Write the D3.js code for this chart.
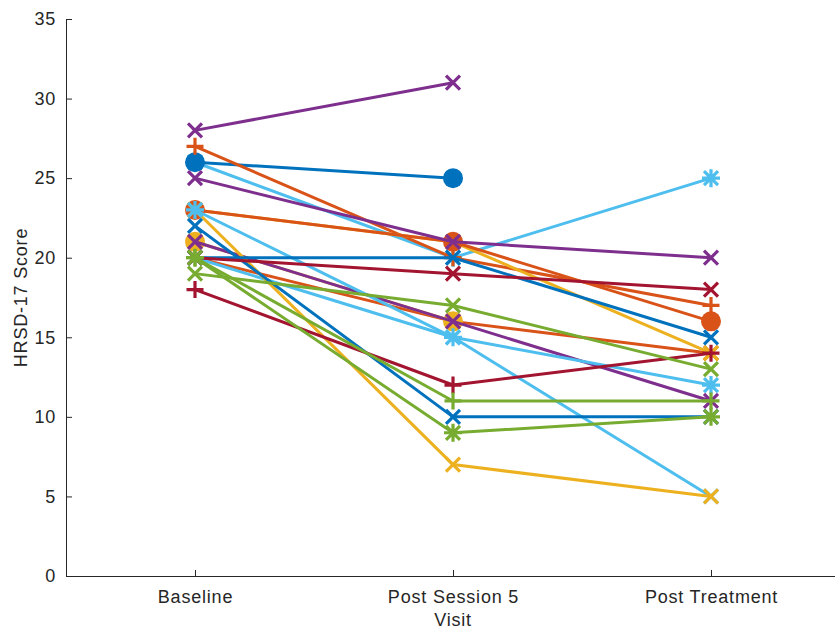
<!DOCTYPE html>
<html>
<head>
<meta charset="utf-8">
<script src="https://cdn.jsdelivr.net/npm/d3@7"></script>
<style>
  html, body { margin: 0; padding: 0; background: #fff; }
  svg { display: block; }
  text { font-family: "Liberation Sans", Arial, sans-serif; fill: #262626; }
</style>
</head>
<body>
<svg id="chart" width="835" height="631"></svg>
<script>
// Visits on the x axis
const visits = ["Baseline", "Post Session 5", "Post Treatment"];

// HRSD-17 scores per participant (null = visit not completed), in plotting order
const scores = [
  [26, 20, 25],
  [26, 25, null],
  [27, 20, 17],
  [20, 16, 14],
  [23, 21, 14],
  [23, 21, 16],
  [21, 16, null],
  [28, 31, null],
  [25, 21, 20],
  [21, 16, 11],
  [20, 15, 5],
  [23, 7, 5],
  [23, 15, 12],
  [22, 10, 10],
  [20, 20, 15],
  [20, 19, 18],
  [18, 12, 14],
  [19, 17, 13],
  [20, 11, 11],
  [20, 9, 10]
];

// Colour index (into palette) and marker symbol for each participant
const colorIndex = [5, 0, 1, 1, 2, 1, 2, 3, 3, 3, 5, 2, 5, 0, 0, 6, 6, 4, 4, 4];
const markerType = ["*", "o", "+", "x", "x", "o", "o", "x", "x", "x", "x", "x", "*", "x", "x", "x", "+", "x", "+", "*"];

// Y axis ticks
const yTicks = [0, 5, 10, 15, 20, 25, 30, 35];

const palette = ["#0072BD", "#D95319", "#EDB120", "#7E2F8E", "#77AC30", "#4DBEEE", "#A2142F"];

const svg = d3.select("#chart");
const plotLeft = 66, plotRight = 840, plotTop = 19, plotBottom = 576;

const x = d3.scaleLinear().domain([0.5, 3.5]).range([plotLeft, plotRight]);
const y = d3.scaleLinear().domain([0, 35]).range([plotBottom, plotTop]);

// Axes (ticks pointing inward)
const axisColor = "#262626";
const gx = svg.append("g")
  .attr("transform", `translate(0,${plotBottom})`)
  .call(d3.axisBottom(x)
    .tickValues([1, 2, 3])
    .tickFormat((d) => visits[d - 1])
    .tickSizeInner(-6)
    .tickSizeOuter(0)
    .tickPadding(14));
const gy = svg.append("g")
  .attr("transform", `translate(${plotLeft},0)`)
  .call(d3.axisLeft(y)
    .tickValues(yTicks)
    .tickSizeInner(-6)
    .tickSizeOuter(0)
    .tickPadding(10));

[gx, gy].forEach((g) => {
  g.select(".domain").attr("stroke", axisColor).attr("stroke-width", 1);
  g.selectAll(".tick line").attr("stroke", axisColor).attr("stroke-width", 1);
  g.selectAll(".tick text")
    .attr("fill", axisColor)
    .style("font-size", "18px")
    .style("letter-spacing", "0.8px")
    .style("font-family", "'Liberation Sans', Arial, sans-serif");
});

// Axis titles
svg.append("text")
  .attr("x", x(2))
  .attr("y", 626)
  .attr("text-anchor", "middle")
  .style("font-size", "18px")
  .style("letter-spacing", "0.8px")
  .text("Visit");

svg.append("text")
  .attr("transform", `translate(27,${(plotTop + plotBottom) / 2}) rotate(-90)`)
  .attr("text-anchor", "middle")
  .style("font-size", "18px")
  .style("letter-spacing", "0.8px")
  .text("HRSD-17 Score");

// Marker shapes
function markerPath(type) {
  if (type === "x") {
    const h = 7;
    return `M${-h},${-h}L${h},${h}M${-h},${h}L${h},${-h}`;
  }
  if (type === "+") {
    const h = 8.5;
    return `M${-h},0L${h},0M0,${-h}L0,${h}`;
  }
  if (type === "*") {
    const h = 9, d = 7;
    return `M${-h},0L${h},0M0,${-h}L0,${h}M${-d},${-d}L${d},${d}M${-d},${d}L${d},${-d}`;
  }
  return null;
}

const line = d3.line()
  .defined((d) => d.v != null)
  .x((d) => x(d.i + 1))
  .y((d) => y(d.v));

const plot = svg.append("g");

scores.forEach((vals, k) => {
  const col = palette[colorIndex[k]];
  const pts = vals.map((v, i) => ({ v, i }));
  const g = plot.append("g");
  g.append("path")
    .datum(pts)
    .attr("fill", "none")
    .attr("stroke", col)
    .attr("stroke-width", 3)
    .attr("stroke-linejoin", "round")
    .attr("d", line);

  const present = pts.filter((p) => p.v != null);
  const type = markerType[k];
  if (type === "o") {
    g.selectAll("circle")
      .data(present)
      .join("circle")
      .attr("cx", (d) => x(d.i + 1))
      .attr("cy", (d) => y(d.v))
      .attr("r", 10)
      .attr("fill", col);
  } else {
    g.selectAll("path.mk")
      .data(present)
      .join("path")
      .attr("class", "mk")
      .attr("transform", (d) => `translate(${x(d.i + 1)},${y(d.v)})`)
      .attr("d", markerPath(type))
      .attr("fill", "none")
      .attr("stroke", col)
      .attr("stroke-width", 3.2);
  }
});
</script>
</body>
</html>
